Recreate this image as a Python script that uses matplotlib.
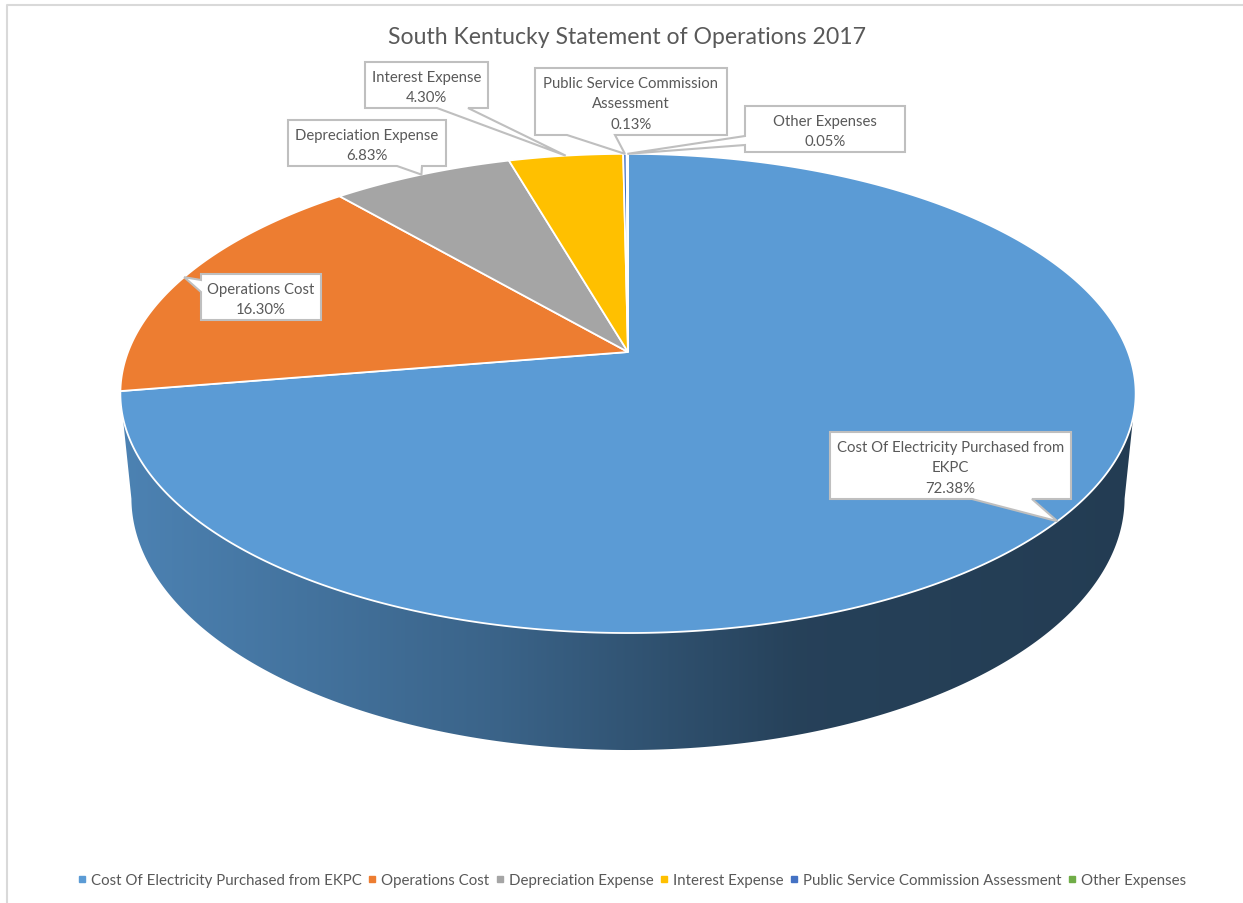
import numpy as np
import matplotlib
matplotlib.use("Agg")
import matplotlib.pyplot as plt
from matplotlib.patches import Polygon
from matplotlib.lines import Line2D
from matplotlib.colors import to_rgb

# data
categories = ["Cost Of Electricity Purchased from EKPC", "Operations Cost", "Depreciation Expense",
              "Interest Expense", "Public Service Commission Assessment", "Other Expenses"]
shares = [72.38, 16.30, 6.83, 4.30, 0.13, 0.05]
label_text = ["Cost Of Electricity Purchased from\nEKPC\n72.38%", "Operations Cost\n16.30%",
              "Depreciation Expense\n6.83%", "Interest Expense\n4.30%",
              "Public Service Commission\nAssessment\n0.13%", "Other Expenses\n0.05%"]
colors = ["#5b9bd5", "#ed7d31", "#a5a5a5", "#ffc000", "#4472c4", "#70ad47"]

# callout boxes (x0, x1, y0, y1) in pixels, pointer side and base
boxes = [(830, 1071, 433, 500), (201, 321, 275, 321), (288, 446, 121, 167),
         (365, 488, 63, 109), (535, 727, 69, 136), (745, 905, 107, 153)]
pointers = [("bottom", 972, 1032), ("left", 281, 293), ("bottom", 397, 422),
            ("bottom", 437, 468), ("bottom", 567, 615), ("left", 137, 146)]

plt.rcParams["font.family"] = ["Lato", "DejaVu Sans"]
TXT = "#595959"

# fake 3d camera
CX, CY = 628, 353
F, D = 2560.0, 5.12
ELEV = np.radians(27.7)
H = 0.238


def proj(theta, z=0.0):
    u, v = np.cos(theta), np.sin(theta)
    depth = D + v * np.cos(ELEV) - z * np.sin(ELEV)
    up = v * np.sin(ELEV) + z * np.cos(ELEV)
    return CX + F * u / depth, CY - F * up / depth


fig = plt.figure(figsize=(12.43, 9.04), dpi=100)
ax = fig.add_axes([0, 0, 1, 1])

# chart border
ax.add_line(Line2D([7, 7, 1243], [904, 6, 6], color="#d9d9d9", lw=1.5))

total = sum(shares)
cum = np.concatenate([[0], np.cumsum(shares)])
starts = np.radians(90 - 360 * cum[:-1] / total)
ends = np.radians(90 - 360 * cum[1:] / total)

# side wall between the left and right silhouette angles, gradient fill
tang = np.arcsin(np.cos(ELEV) / D)
th = np.linspace(np.pi + tang, 2 * np.pi - tang, 400)
top = [proj(t) for t in th]
bot = [proj(t, -H) for t in th[::-1]]
wall = Polygon(top + bot, closed=True, facecolor="none", edgecolor="none")
ax.add_patch(wall)
gx = np.linspace(100, 1150, 600)
fac = np.interp(gx, [120, 500, 800, 1136], [0.84, 0.64, 0.42, 0.39])
grad = np.array([to_rgb(colors[0])])[None, :, :] * fac[None, :, None]
img = ax.imshow(np.repeat(grad, 2, axis=0), extent=(100, 1150, 790, 370), aspect="auto",
                interpolation="bilinear")
img.set_clip_path(wall)

# top face
for i in range(len(shares)):
    tt = np.linspace(starts[i], ends[i], max(3, int(abs(starts[i] - ends[i]) * 150)))
    pts = [(CX, CY)] + [proj(t) for t in tt]
    ax.add_patch(Polygon(pts, closed=True, facecolor=colors[i], edgecolor="white", lw=1.3))

# data label callouts
for i in range(len(shares)):
    x0, x1, y0, y1 = boxes[i]
    side, b0, b1 = pointers[i]
    tip = proj((starts[i] + ends[i]) / 2)
    if side == "bottom":
        pts = [(x0, y0), (x1, y0), (x1, y1), (b1, y1), tip, (b0, y1), (x0, y1)]
    else:
        pts = [(x0, y0), (x1, y0), (x1, y1), (x0, y1), (x0, b1), tip, (x0, b0)]
    ax.add_patch(Polygon(pts, closed=True, facecolor="white", edgecolor="#bfbfbf", lw=1.5, zorder=5))
    ax.text((x0 + x1) / 2, (y0 + y1) / 2 + 2, label_text[i], ha="center", va="center",
            fontsize=10.7, color=TXT, linespacing=1.62, zorder=6)

ax.text(627, 38, "South Kentucky Statement of Operations 2017", ha="center", va="center",
        fontsize=16.6, color=TXT)

ax.set_xlim(0, 1243)
ax.set_ylim(904, 0)
ax.axis("off")

handles = [Line2D([], [], marker="s", ls="", markersize=5, color=c) for c in colors]
fig.legend(handles, categories, loc="center", bbox_to_anchor=(632 / 1243, 1 - 881 / 904), ncol=6,
           frameon=False, fontsize=10.8, handlelength=0.5, handletextpad=0.35, columnspacing=0.45,
           labelcolor=TXT)

fig.savefig("out.png", dpi=100)
